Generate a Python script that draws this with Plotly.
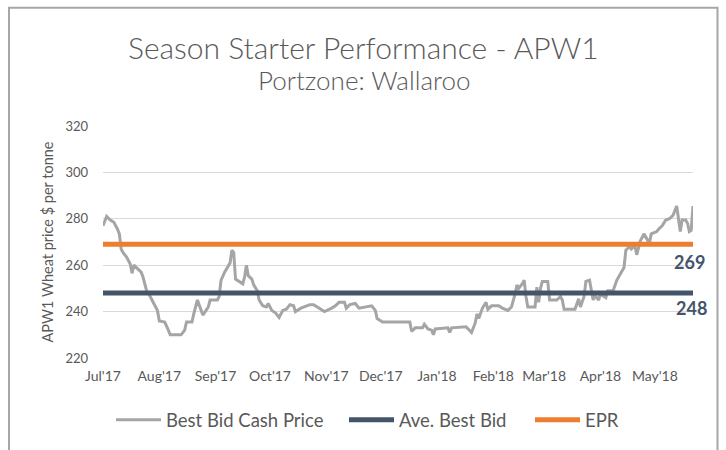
import plotly.graph_objects as go

# ---------------- data ----------------
dates = [
    "2017-07-01", "2017-07-03", "2017-07-05", "2017-07-07", "2017-07-09", "2017-07-10",
    "2017-07-11", "2017-07-12", "2017-07-14", "2017-07-16", "2017-07-17", "2017-07-18",
    "2017-07-20", "2017-07-22", "2017-07-23", "2017-07-25", "2017-07-27", "2017-07-29",
    "2017-07-31", "2017-08-01", "2017-08-04", "2017-08-06", "2017-08-07", "2017-08-13",
    "2017-08-15", "2017-08-16", "2017-08-19", "2017-08-20", "2017-08-22", "2017-08-25",
    "2017-08-28", "2017-08-29", "2017-09-02", "2017-09-03", "2017-09-04", "2017-09-06",
    "2017-09-08", "2017-09-09", "2017-09-10", "2017-09-11", "2017-09-12", "2017-09-14",
    "2017-09-16", "2017-09-17", "2017-09-18", "2017-09-19", "2017-09-21", "2017-09-22",
    "2017-09-24", "2017-09-25", "2017-09-27", "2017-09-29", "2017-09-30", "2017-10-02",
    "2017-10-04", "2017-10-06", "2017-10-08", "2017-10-10", "2017-10-12", "2017-10-14",
    "2017-10-15", "2017-10-18", "2017-10-23", "2017-10-25", "2017-10-28", "2017-10-31",
    "2017-11-04", "2017-11-06", "2017-11-08", "2017-11-11", "2017-11-12", "2017-11-14",
    "2017-11-17", "2017-11-19", "2017-11-26", "2017-11-28", "2017-11-29", "2017-12-02",
    "2017-12-17", "2017-12-18", "2017-12-20", "2017-12-24", "2017-12-25", "2017-12-27",
    "2017-12-29", "2017-12-30", "2017-12-31", "2018-01-07", "2018-01-08", "2018-01-09",
    "2018-01-17", "2018-01-20", "2018-01-22", "2018-01-23", "2018-01-24", "2018-01-26",
    "2018-01-28", "2018-01-29", "2018-01-31", "2018-02-04", "2018-02-06", "2018-02-09",
    "2018-02-11", "2018-02-13", "2018-02-14", "2018-02-15", "2018-02-17", "2018-02-18",
    "2018-02-19", "2018-02-20", "2018-02-24", "2018-02-25", "2018-02-26", "2018-02-27",
    "2018-02-28", "2018-03-03", "2018-03-04", "2018-03-08", "2018-03-10", "2018-03-11",
    "2018-03-12", "2018-03-18", "2018-03-20", "2018-03-21", "2018-03-23", "2018-03-24",
    "2018-03-26", "2018-03-28", "2018-03-29", "2018-03-31", "2018-04-01", "2018-04-04",
    "2018-04-05", "2018-04-08", "2018-04-10", "2018-04-12", "2018-04-14", "2018-04-15",
    "2018-04-17", "2018-04-18", "2018-04-20", "2018-04-21", "2018-04-23", "2018-04-25",
    "2018-04-26", "2018-04-28", "2018-04-29", "2018-05-02", "2018-05-03", "2018-05-05",
    "2018-05-07", "2018-05-09", "2018-05-11", "2018-05-13", "2018-05-14", "2018-05-15",
    "2018-05-16", "2018-05-18", "2018-05-19", "2018-05-20", "2018-05-21", "2018-05-22",
]
best_bid = [
    277, 281, 279.5, 278.5, 275.5, 273.5,
    267, 265.5, 263.5, 260.5, 256.5, 260,
    258.5, 257, 255, 249, 246.5, 243.5,
    240.5, 236, 235.5, 232, 230, 230,
    232, 235.5, 235.5, 239, 245, 238.5,
    242, 245, 245, 246.5, 253.5, 257,
    260, 261, 266.5, 265.5, 254, 253,
    252, 255, 260, 255.5, 254, 251.5,
    249, 245, 242.5, 242, 243.5, 240.5,
    239.5, 237.5, 240.5, 241, 243, 242.5,
    240, 241.5, 243, 243, 241.5, 240,
    241.5, 242.5, 244, 244, 241.5, 243,
    243.5, 241.5, 242.5, 240.5, 237, 235.5,
    235.5, 231.5, 233, 233, 234.5, 232.5,
    232, 230, 232.5, 233, 231, 233,
    233.5, 231, 235, 239, 237, 241.5,
    244, 241, 242.5, 242.5, 241.5, 240.5,
    242, 247.5, 251.5, 250, 252, 253.5,
    246.5, 242, 242, 250.5, 244, 250,
    253, 253, 245, 245, 246.5, 245,
    241, 241, 245.5, 242, 246.5, 253,
    253.5, 245, 247, 245, 247.5, 246,
    249, 249, 253.5, 256, 259, 266.5,
    268, 267, 268.5, 264.5, 270.5, 273.5,
    272, 269.5, 273.5, 274.5, 275.5, 277,
    279.5, 280, 281.5, 285.5, 280, 274.5,
    279.5, 279.5, 278, 274.5, 275, 285.5,
]
ave_best_bid = 248
epr = 269

series_names = ["Best Bid Cash Price", "Ave. Best Bid", "EPR"]
y_ticks = [220, 240, 260, 280, 300, 320]

title_text = "Season Starter Performance - APW1"
subtitle_text = "Portzone: Wallaroo"
y_title = "APW1 Wheat price $ per tonne"

# ---------------- layout helpers (pixel -> paper) ----------------
W, H = 726, 450
PL, PR, PT, PB = 103, 693, 125.7, 357.7


def px(x):
    return (x - PL) / (PR - PL)


def py(y):
    return (PB - y) / (PB - PT)


FONT = "Lato"
GREY_TXT = "#595959"

fig = go.Figure()
fig.add_trace(go.Scatter(
    x=dates, y=best_bid, mode="lines", name=series_names[0],
    line=dict(color="#A5A5A5", width=3), legend="legend",
))
fig.add_trace(go.Scatter(
    x=[dates[0], dates[-1]], y=[ave_best_bid, ave_best_bid], mode="lines",
    name=series_names[1], line=dict(color="#44546A", width=5), legend="legend2",
))
fig.add_trace(go.Scatter(
    x=[dates[0], dates[-1]], y=[epr, epr], mode="lines",
    name=series_names[2], line=dict(color="#ED7D31", width=5), legend="legend3",
))


def leg(xpix):
    return dict(
        orientation="h", x=px(xpix), xanchor="left", y=py(420), yanchor="middle",
        font=dict(size=18.5, color=GREY_TXT, family=FONT), itemwidth=45,
        bgcolor="rgba(0,0,0,0)",
    )


fig.update_layout(
    width=W, height=H,
    margin=dict(l=PL, r=W - PR, t=PT, b=H - PB, autoexpand=False),
    paper_bgcolor="white", plot_bgcolor="white",
    font=dict(family=FONT, color=GREY_TXT),
    showlegend=True,
    legend=leg(111), legend2=leg(344), legend3=leg(530),
    xaxis=dict(
        type="date", range=[dates[0], dates[-1]],
        tick0="2017-07-01", dtick="M1", tickformat="%b'%y",
        showgrid=False, zeroline=False, showline=False, ticks="",
        tickfont=dict(size=14, color=GREY_TXT), ticklabelstandoff=8,
        fixedrange=True,
    ),
    yaxis=dict(
        range=[220, 320], tickvals=y_ticks,
        showgrid=True, gridcolor="#D9D9D9", gridwidth=1.3,
        zeroline=False, showline=False, ticks="",
        tickfont=dict(size=13, color=GREY_TXT), ticklabelstandoff=14,
        title=dict(text=y_title, font=dict(size=14.5, color=GREY_TXT), standoff=8),
        fixedrange=True,
    ),
    annotations=[
        dict(text=title_text, xref="paper", yref="paper", x=px(363), y=py(47),
             xanchor="center", yanchor="middle", showarrow=False,
             font=dict(size=30, color=GREY_TXT, family=FONT, weight=300)),
        dict(text=subtitle_text, xref="paper", yref="paper", x=px(364), y=py(80),
             xanchor="center", yanchor="middle", showarrow=False,
             font=dict(size=26, color=GREY_TXT, family=FONT, weight=300)),
        dict(text=str(epr), xref="paper", yref="paper", x=px(689), y=py(262),
             xanchor="center", yanchor="middle", showarrow=False,
             font=dict(size=18, color="#44546A", family=FONT, weight="bold")),
        dict(text=str(ave_best_bid), xref="paper", yref="paper", x=px(691), y=py(308),
             xanchor="center", yanchor="middle", showarrow=False,
             font=dict(size=18, color="#44546A", family=FONT, weight="bold")),
    ],
    shapes=[
        dict(type="rect", xref="paper", yref="paper",
             x0=px(9), x1=px(717.5), y0=py(470), y1=py(7.5),
             line=dict(color="#A6A6A6", width=2), fillcolor="rgba(0,0,0,0)",
             layer="below"),
    ],
)

fig.write_html(
    "out.html",
    config={"displayModeBar": False},
    post_script="document.body.style.margin='0';document.body.style.overflow='hidden';",
)
